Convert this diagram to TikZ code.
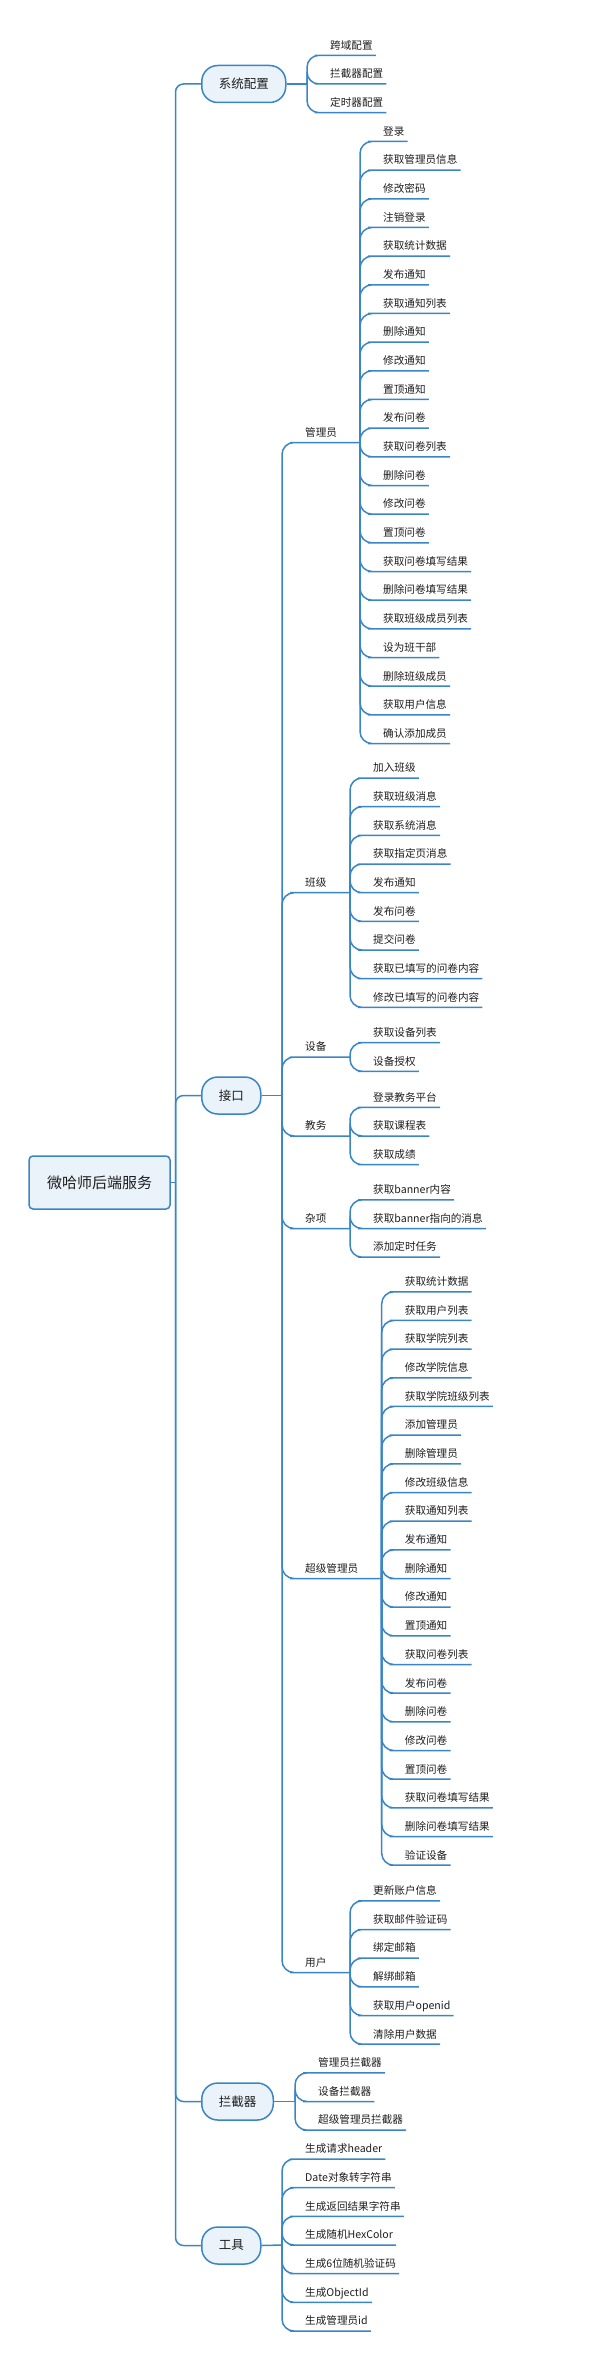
\documentclass[tikz,border=0pt]{standalone}
\usepackage{fontspec}
\setmainfont{Noto Sans CJK SC}
\usepackage{tikz}
\definecolor{mapblue}{HTML}{3A85C6}
\definecolor{mapfill}{HTML}{EAF2FA}
\definecolor{maptext}{HTML}{1E1E1E}
\tikzset{
  link/.style = {draw=mapblue, line width=1.5pt, rounded corners=12pt},
  trunk/.style = {link, rounded corners=8pt},% tronc principal
  root_node/.style = {rectangle, rounded corners=4pt, draw=mapblue, fill=mapfill,
    line width=1.5pt, minimum width=141pt, minimum height=53pt, text=maptext,
    font=\fontsize{15pt}{18pt}\selectfont},
  topic_node/.style = {rectangle, rounded corners=16pt, draw=mapblue, fill=mapfill,
    line width=1.5pt, anchor=west, inner xsep=17pt, minimum height=37pt, text=maptext,
    font=\fontsize{12.5pt}{15pt}\selectfont},% branche principale
  leaf_node/.style = {anchor=south west, inner xsep=3pt, inner ysep=4pt,
    text height=8pt, text depth=2pt, text=maptext,
    font=\fontsize{10.6pt}{12pt}\selectfont},% feuille soulignee
  jn/.style = {inner sep=0pt, minimum size=0pt},
  leaf_tree/.style = {grow'=right, level distance=20pt, sibling distance=28.67pt,
    every child node/.style={leaf_node}, edge from parent/.style={link},
    edge from parent path={(\tikzparentnode.center) |- (\tikzchildnode.south west)
      -- (\tikzchildnode.south east)}}
}

\begin{document}
\begin{tikzpicture}[x=1pt, y=-1pt]
    \useasboundingbox (0,0) rectangle (602,2365);

    \node [root_node] (root) at (99.5,1182.5) {微哈师后端服务};
    \coordinate (trunk_jn) at (175.5,1182.5);

    \node [topic_node] (sys_cfg) at (201,84) {系统配置};
    \node [topic_node] (api) at (201,1095.5) {接口};
    \node [topic_node] (itc) at (201,2101.5) {拦截器};
    \node [topic_node] (tool) at (201,2245.5) {工具};

    \draw [trunk] (root.east) -- (trunk_jn);
    \draw [trunk] (trunk_jn) |- (sys_cfg.west);
    \draw [trunk] (trunk_jn) |- (api.west);
    \draw [trunk] (trunk_jn) |- (itc.west);
    \draw [trunk] (trunk_jn) |- (tool.west);

    \node [jn] (sys_jn) at (307,84) {} [leaf_tree]
      child{ node {跨域配置} }
      child{ node {拦截器配置} }
      child{ node {定时器配置} }
    ;
    \draw [link] (sys_cfg.east) -- (sys_jn);

    % interface groups
    \node [jn] (api_jn) at (282,1095.5) {};
    \draw [link] (api.east) -- (api_jn);

    \node [leaf_node] (adm) at (302,442.5) {管理员};
    \node [leaf_node] (cls) at (302,892.7) {班级};
    \node [leaf_node] (dev) at (302,1057) {设备};
    \node [leaf_node] (edu) at (302,1136) {教务};
    \node [leaf_node] (misc) at (302,1228.5) {杂项};
    \node [leaf_node] (sup) at (302,1578.5) {超级管理员};
    \node [leaf_node] (usr) at (302,1972.5) {用户};

    \node [jn] (adm_jn) at (360,442.5) {} [leaf_tree]
      child{ node {登录} }
      child{ node {获取管理员信息} }
      child{ node {修改密码} }
      child{ node {注销登录} }
      child{ node {获取统计数据} }
      child{ node {发布通知} }
      child{ node {获取通知列表} }
      child{ node {删除通知} }
      child{ node {修改通知} }
      child{ node {置顶通知} }
      child{ node {发布问卷} }
      child{ node {获取问卷列表} }
      child{ node {删除问卷} }
      child{ node {修改问卷} }
      child{ node {置顶问卷} }
      child{ node {获取问卷填写结果} }
      child{ node {删除问卷填写结果} }
      child{ node {获取班级成员列表} }
      child{ node {设为班干部} }
      child{ node {删除班级成员} }
      child{ node {获取用户信息} }
      child{ node {确认添加成员} }
    ;
    \node [jn] (cls_jn) at (350,892.7) {} [leaf_tree]
      child{ node {加入班级} }
      child{ node {获取班级消息} }
      child{ node {获取系统消息} }
      child{ node {获取指定页消息} }
      child{ node {发布通知} }
      child{ node {发布问卷} }
      child{ node {提交问卷} }
      child{ node {获取已填写的问卷内容} }
      child{ node {修改已填写的问卷内容} }
    ;
    \node [jn] (dev_jn) at (350,1057) {} [leaf_tree]
      child{ node {获取设备列表} }
      child{ node {设备授权} }
    ;
    \node [jn] (edu_jn) at (350,1136) {} [leaf_tree]
      child{ node {登录教务平台} }
      child{ node {获取课程表} }
      child{ node {获取成绩} }
    ;
    \node [jn] (misc_jn) at (350,1228.5) {} [leaf_tree]
      child{ node {获取banner内容} }
      child{ node {获取banner指向的消息} }
      child{ node {添加定时任务} }
    ;
    \node [jn] (sup_jn) at (381.7,1578.5) {} [leaf_tree]
      child{ node {获取统计数据} }
      child{ node {获取用户列表} }
      child{ node {获取学院列表} }
      child{ node {修改学院信息} }
      child{ node {获取学院班级列表} }
      child{ node {添加管理员} }
      child{ node {删除管理员} }
      child{ node {修改班级信息} }
      child{ node {获取通知列表} }
      child{ node {发布通知} }
      child{ node {删除通知} }
      child{ node {修改通知} }
      child{ node {置顶通知} }
      child{ node {获取问卷列表} }
      child{ node {发布问卷} }
      child{ node {删除问卷} }
      child{ node {修改问卷} }
      child{ node {置顶问卷} }
      child{ node {获取问卷填写结果} }
      child{ node {删除问卷填写结果} }
      child{ node {验证设备} }
    ;
    \node [jn] (usr_jn) at (350,1972.5) {} [leaf_tree]
      child{ node {更新账户信息} }
      child{ node {获取邮件验证码} }
      child{ node {绑定邮箱} }
      child{ node {解绑邮箱} }
      child{ node {获取用户openid} }
      child{ node {清除用户数据} }
    ;

    \draw [link] (api_jn) |- (adm.south west) -- (adm_jn);
    \draw [link] (api_jn) |- (cls.south west) -- (cls_jn);
    \draw [link] (api_jn) |- (dev.south west) -- (dev_jn);
    \draw [link] (api_jn) |- (edu.south west) -- (edu_jn);
    \draw [link] (api_jn) |- (misc.south west) -- (misc_jn);
    \draw [link] (api_jn) |- (sup.south west) -- (sup_jn);
    \draw [link] (api_jn) |- (usr.south west) -- (usr_jn);

    \node [jn] (itc_jn) at (295,2101.5) {} [leaf_tree]
      child{ node {管理员拦截器} }
      child{ node {设备拦截器} }
      child{ node {超级管理员拦截器} }
    ;
    \draw [link] (itc.east) -- (itc_jn);

    \node [jn] (tool_jn) at (282,2245) {} [leaf_tree]
      child{ node {生成请求header} }
      child{ node {Date对象转字符串} }
      child{ node {生成返回结果字符串} }
      child{ node {生成随机HexColor} }
      child{ node {生成6位随机验证码} }
      child{ node {生成ObjectId} }
      child{ node {生成管理员id} }
    ;
    \draw [link] (tool.east) -- (tool_jn);
  \end{tikzpicture}
\end{document}
